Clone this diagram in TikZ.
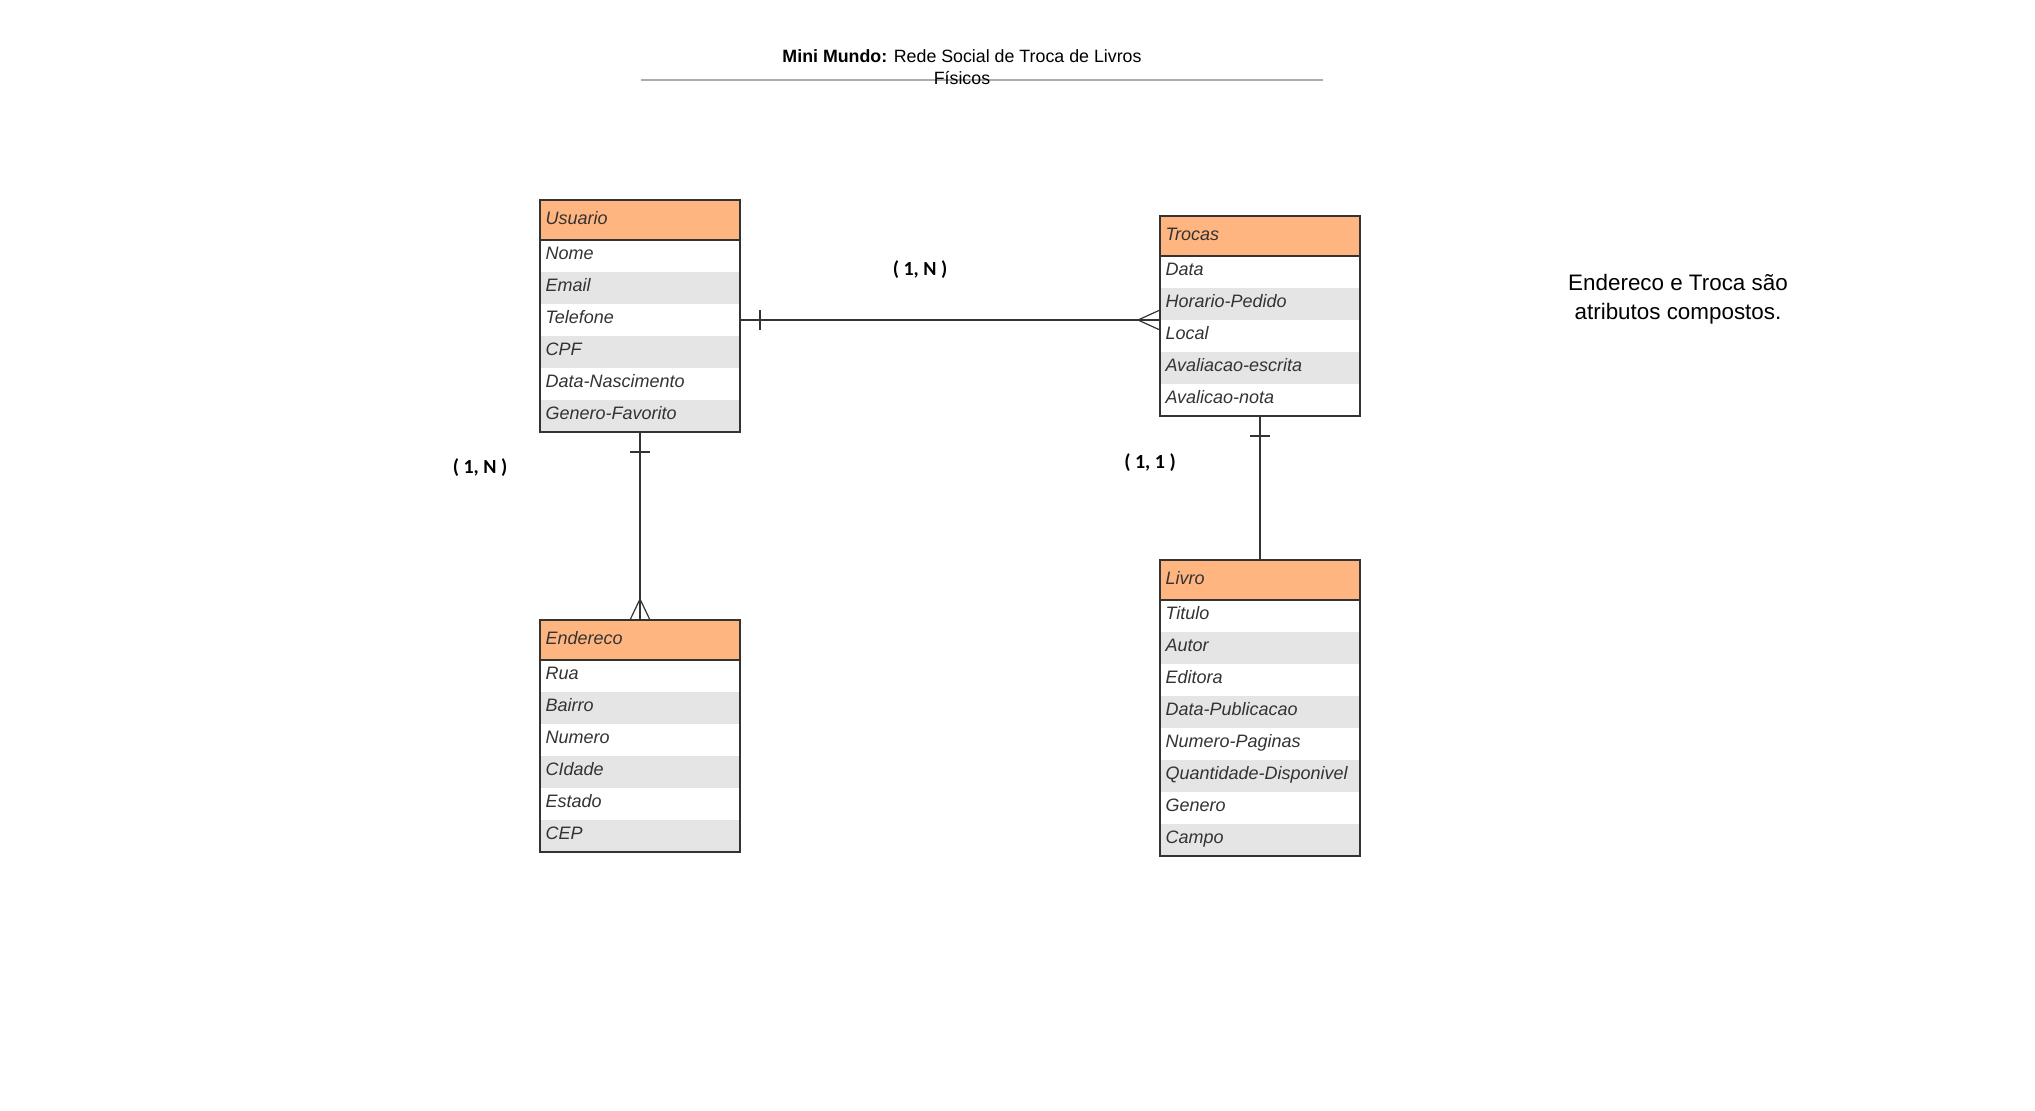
\documentclass[tikz,border=0pt]{standalone}
\usepackage{fontspec}
\setmainfont{Liberation Sans}
\newfontfamily\cardfont{Carlito}
\usepackage{tikz}

\definecolor{headorange}{HTML}{FFB580}
\definecolor{rowgray}{HTML}{E5E5E5}
\definecolor{ink}{HTML}{333333}
\definecolor{rulegray}{HTML}{A9ACB6}

\tikzset{
  entity/.style={draw=ink, line width=0.6pt, fill=headorange, anchor=north west,
    minimum height=20pt, inner xsep=2.75pt, inner ysep=0pt, outer sep=0pt, text width=94.5pt,
    text height=6.6pt, text depth=2.5pt,
    align=left, text=ink, font=\fontsize{9}{11}\selectfont\itshape},
  attr/.style={anchor=west, minimum height=16pt, inner xsep=2.75pt, inner ysep=0pt, outer sep=0pt,
    text width=94.5pt, text height=6.6pt, text depth=2.7pt,
    align=left, text=ink, font=\fontsize{9}{11}\selectfont\itshape},
  frame/.style={draw=ink, line width=0.6pt},
  card/.style={font=\cardfont\bfseries\fontsize{10}{12}\selectfont},
  link/.style={draw=ink, line width=0.6pt}
}

\begin{document}
\begin{tikzpicture}[x=0.5pt,y=-0.5pt]
		\useasboundingbox (0,0) rectangle (2035,1110);

		\coordinate (rule-l) at (641,80);
		\coordinate (rule-r) at (1323,80);
		\draw[rulegray, line width=1pt] (rule-l) -- (rule-r);
		\node[align=center, font=\fontsize{8.9}{11}\selectfont] (title) at (962,67)
			{\textbf{Mini Mundo:} Rede Social de Troca de Livros\\Físicos};
		\node[align=center, font=\fontsize{11.2}{14.5}\selectfont] (note) at (1678,299)
			{Endereco e Troca são\\atributos compostos.};

		\foreach \a [count=\i] in {Nome,Email,Telefone,CPF,Data-Nascimento,Genero-Favorito}{
			\ifodd\i\def\rowfill{white}\else\def\rowfill{rowgray}\fi
			\node[attr, fill=\rowfill] (usuario-\i) at (540,{256+32*(\i-1)}) {\a};
		}
		\node[entity] (usuario) at (540,200) {Usuario};
		\draw[frame] (usuario.north west) rectangle (usuario-6.south east);

		\foreach \a [count=\i] in {Data,Horario-Pedido,Local,Avaliacao-escrita,Avalicao-nota}{
			\ifodd\i\def\rowfill{white}\else\def\rowfill{rowgray}\fi
			\node[attr, fill=\rowfill] (trocas-\i) at (1160,{272+32*(\i-1)}) {\a};
		}
		\node[entity] (trocas) at (1160,216) {Trocas};
		\draw[frame] (trocas.north west) rectangle (trocas-5.south east);

		\foreach \a [count=\i] in {Rua,Bairro,Numero,CIdade,Estado,CEP}{
			\ifodd\i\def\rowfill{white}\else\def\rowfill{rowgray}\fi
			\node[attr, fill=\rowfill] (endereco-\i) at (540,{676+32*(\i-1)}) {\a};
		}
		\node[entity] (endereco) at (540,620) {Endereco};
		\draw[frame] (endereco.north west) rectangle (endereco-6.south east);

		\foreach \a [count=\i] in {Titulo,Autor,Editora,Data-Publicacao,Numero-Paginas,Quantidade-Disponivel,Genero,Campo}{
			\ifodd\i\def\rowfill{white}\else\def\rowfill{rowgray}\fi
			\node[attr, fill=\rowfill] (livro-\i) at (1160,{616+32*(\i-1)}) {\a};
		}
		\node[entity] (livro) at (1160,560) {Livro};
		\draw[frame] (livro.north west) rectangle (livro-8.south east);

		\begin{scope}[every node/.style={card}]
			\node (card-ut) at (920,270) {( 1, N )};
			\node (card-ue) at (480,468) {( 1, N )};
			\node (card-tl) at (1150,463) {( 1, 1 )};
		\end{scope}

		\begin{scope}[every path/.style={link}]
			\path (usuario-3.east) edge (trocas-2.south west);
			\path ([xshift=10pt,yshift=5pt]usuario-3.east) edge ([xshift=10pt,yshift=-5pt]usuario-3.east);
			\draw ([yshift=5pt]trocas-2.south west) -- ([xshift=-11pt]trocas-2.south west)
				-- ([yshift=-5pt]trocas-2.south west);

			\path (usuario-6.south) edge (endereco.north);
			\path ([xshift=-5pt,yshift=-10pt]usuario-6.south) edge ([xshift=5pt,yshift=-10pt]usuario-6.south);
			\draw ([xshift=-5pt]endereco.north) -- ([yshift=10.5pt]endereco.north)
				-- ([xshift=5pt]endereco.north);

			\path (trocas-5.south) edge (livro.north);
			\path ([xshift=-5pt,yshift=-10pt]trocas-5.south) edge ([xshift=5pt,yshift=-10pt]trocas-5.south);
		\end{scope}
\end{tikzpicture}
\end{document}
